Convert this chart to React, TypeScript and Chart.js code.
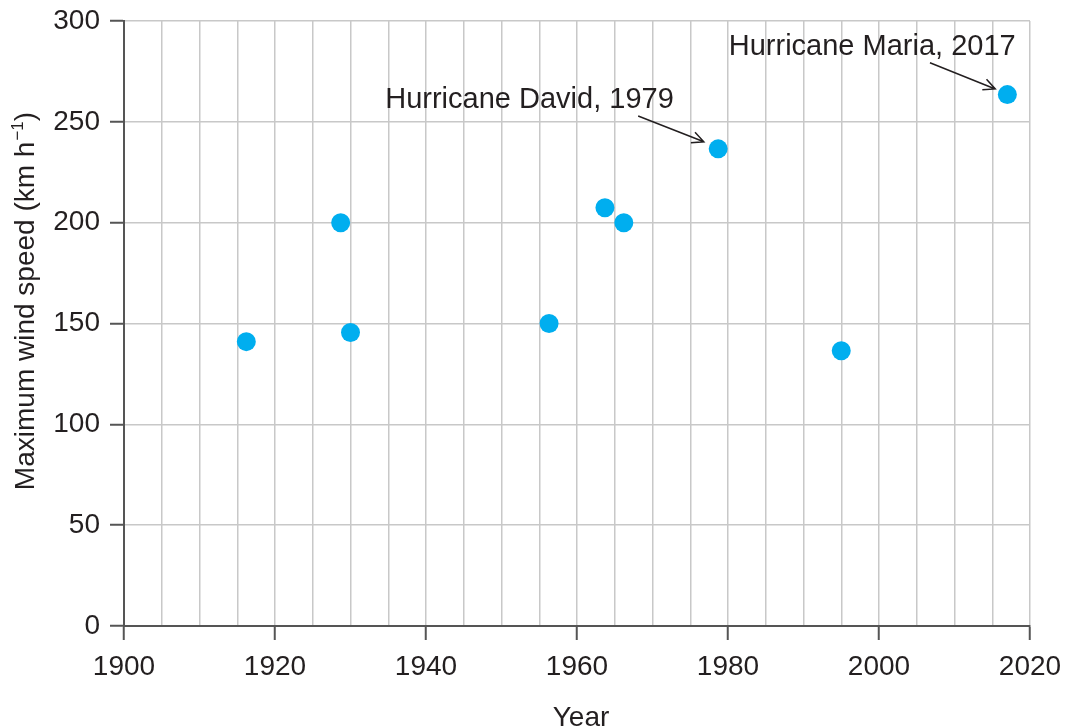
import React, { useEffect, useRef } from "react";
import { Chart, registerables } from "chart.js";

Chart.register(...registerables);

const years = [1916.2, 1928.7, 1930.0, 1956.3, 1963.7, 1966.2, 1978.7, 1995.0, 2017.0];
const speeds = [141, 200, 145.5, 150, 207.4, 200, 236.6, 136.5, 263.5];

const annotationTexts = ["Hurricane David, 1979", "Hurricane Maria, 2017"];
const annotationTextX = [1934.6, 1980.1];
const annotationTextY = [256.7, 283.1];
const arrowFromX = [1968.1, 2006.75];
const arrowFromY = [252.9, 279.3];
const arrowToX = [1976.8, 2015.4];
const arrowToY = [240.1, 266.3];

const xTitle = "Year";
const yTitleMain = "Maximum wind speed (km h";
const yTitleSup = "\u22121";
const yTitleEnd = ")";

const FONT = "'Liberation Sans', Arial, sans-serif";

const overlayPlugin = {
  id: "overlay",
  afterDraw(chart: any) {
    const { ctx, scales, chartArea } = chart;
    const xs = scales.x;
    const ys = scales.y;
    ctx.save();
    ctx.fillStyle = "#231f20";
    ctx.strokeStyle = "#231f20";
    ctx.lineWidth = 1.5;
    ctx.font = `29px ${FONT}`;
    ctx.textAlign = "left";
    ctx.textBaseline = "alphabetic";
    for (let i = 0; i < annotationTexts.length; i++) {
      ctx.fillText(annotationTexts[i], xs.getPixelForValue(annotationTextX[i]), ys.getPixelForValue(annotationTextY[i]));
      const x1 = xs.getPixelForValue(arrowFromX[i]);
      const y1 = ys.getPixelForValue(arrowFromY[i]);
      const x2 = xs.getPixelForValue(arrowToX[i]);
      const y2 = ys.getPixelForValue(arrowToY[i]);
      ctx.beginPath();
      ctx.moveTo(x1, y1);
      ctx.lineTo(x2, y2);
      const ang = Math.atan2(y2 - y1, x2 - x1);
      const hl = 13;
      const ha = 0.45;
      ctx.moveTo(x2 - hl * Math.cos(ang - ha), y2 - hl * Math.sin(ang - ha));
      ctx.lineTo(x2, y2);
      ctx.lineTo(x2 - hl * Math.cos(ang + ha), y2 - hl * Math.sin(ang + ha));
      ctx.stroke();
    }
    ctx.font = `28px ${FONT}`;
    ctx.textAlign = "center";
    ctx.fillText(xTitle, (chartArea.left + chartArea.right) / 2 + 4, 726);
    ctx.translate(34, 301);
    ctx.rotate(-Math.PI / 2);
    ctx.font = `28px ${FONT}`;
    const w1 = ctx.measureText(yTitleMain).width;
    ctx.font = `17px ${FONT}`;
    const w2 = ctx.measureText(yTitleSup).width;
    ctx.font = `28px ${FONT}`;
    const w3 = ctx.measureText(yTitleEnd).width;
    const total = w1 + w2 + w3 + 1;
    let x = -total / 2;
    ctx.textAlign = "left";
    ctx.fillText(yTitleMain, x, 0);
    x += w1 + 1;
    ctx.font = `17px ${FONT}`;
    ctx.fillText(yTitleSup, x, -11);
    x += w2;
    ctx.font = `28px ${FONT}`;
    ctx.fillText(yTitleEnd, x, 0);
    ctx.restore();
  },
};

export default function App() {
  const ref = useRef<HTMLCanvasElement | null>(null);
  useEffect(() => {
    if (!ref.current) return;
    const chart = new Chart(ref.current, {
      type: "scatter",
      data: {
        datasets: [
          {
            data: years.map((y, i) => ({ x: y, y: speeds[i] })),
            backgroundColor: "#00AEEF",
            borderWidth: 0,
            pointRadius: 9.5,
            pointHoverRadius: 9.5,
          },
        ],
      },
      options: {
        animation: false,
        responsive: false,
        maintainAspectRatio: false,
        layout: { padding: { top: 21, right: 36, left: 0, bottom: 0 } },
        plugins: { legend: { display: false }, tooltip: { enabled: false } },
        scales: {
          x: {
            type: "linear",
            min: 1900,
            max: 2020,
            afterFit: (s: any) => {
              s.height = 102;
              s.paddingLeft = 0;
              s.paddingRight = 0;
            },
            border: { color: "#555", width: 2 },
            grid: {
              color: "#c8c8c8",
              lineWidth: 1.5,
              tickLength: 14,
              tickWidth: 2,
              tickColor: (c: any) => (c.tick && c.tick.value % 20 === 0 ? "#555" : "rgba(0,0,0,0)"),
            },
            ticks: {
              stepSize: 5,
              autoSkip: false,
              maxRotation: 0,
              padding: 10,
              color: "#231f20",
              font: { size: 28, family: FONT },
              callback: (v: any) => (Number(v) % 20 === 0 ? String(v) : ""),
            },
          },
          y: {
            min: 0,
            max: 300,
            afterFit: (s: any) => {
              s.width = 124;
              s.paddingTop = 0;
              s.paddingBottom = 0;
            },
            border: { color: "#555", width: 2 },
            grid: {
              color: "#c8c8c8",
              lineWidth: 1.5,
              tickLength: 14,
              tickWidth: 2,
              tickColor: "#555",
            },
            ticks: {
              stepSize: 50,
              padding: 10,
              color: "#231f20",
              font: { size: 28, family: FONT },
            },
          },
        },
      },
      plugins: [overlayPlugin],
    });
    return () => chart.destroy();
  }, []);
  return (
    <>
      <style>{`body{margin:0;}`}</style>
      <canvas ref={ref} width={1066} height={728} style={{ display: "block" }} />
    </>
  );
}
